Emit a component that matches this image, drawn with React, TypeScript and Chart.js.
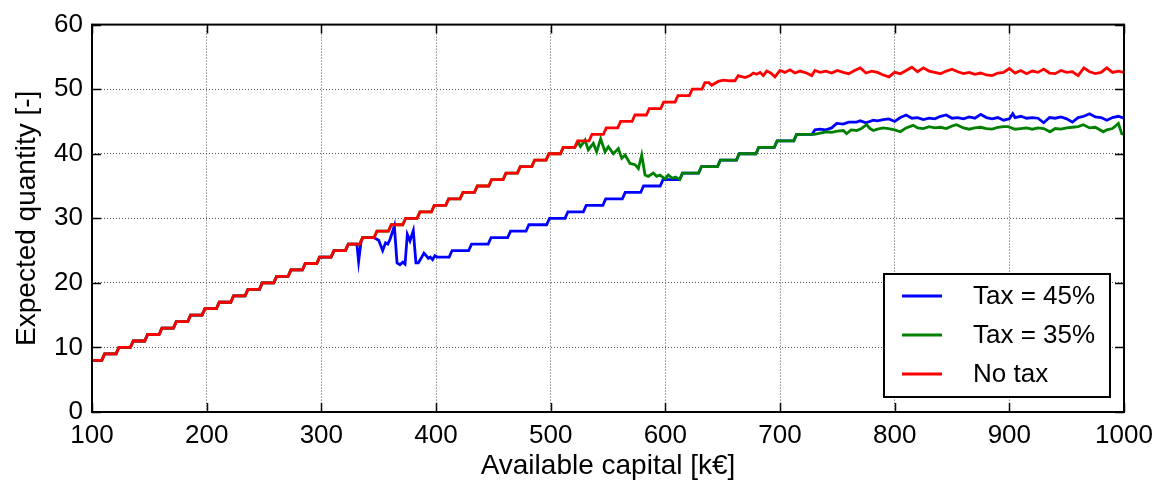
import { useEffect, useRef } from "react";
import { Chart, registerables } from "chart.js";

Chart.register(...registerables);

const FONT = "'Liberation Sans', Arial, Helvetica, sans-serif";

const xTitle = "Available capital [k€]";
const yTitle = "Expected quantity [-]";
const seriesLabels = ["Tax = 45%", "Tax = 35%", "No tax"];
const seriesColors = ["#0000ff", "#008000", "#ff0000"];

// Staircase shared by all series while the tax does not bind (No tax curve)
const noTaxStairs: [number, number][] = [
  [100, 8], [108.5, 8], [111, 9], [121, 9], [123.5, 10], [133.5, 10], [136, 11], [146, 11],
  [148.5, 12], [158.5, 12], [161, 13], [171, 13], [173.5, 14], [183.5, 14], [186, 15], [196, 15],
  [198.5, 16], [208.5, 16], [211, 17], [221, 17], [223.5, 18], [233.5, 18], [236, 19], [246, 19],
  [248.5, 20], [258.5, 20], [261, 21], [271, 21], [273.5, 22], [283.5, 22], [286, 23], [296, 23],
  [298.5, 24], [308.5, 24], [311, 25], [321, 25], [323.5, 26], [331, 26], [333.5, 26], [336, 27],
  [346, 27], [348.5, 28], [358.5, 28], [361, 29], [371, 29], [373.5, 30], [383.5, 30], [386, 31],
  [396, 31], [398.5, 32], [408.5, 32], [411, 33], [421, 33], [423.5, 34], [433.5, 34], [436, 35],
  [446, 35], [448.5, 36], [458.5, 36], [461, 37], [471, 37], [473.5, 38], [483.5, 38], [486, 39],
  [496, 39], [498.5, 40], [508.5, 40], [511, 41], [521, 41], [523.5, 42], [533.5, 42], [536, 43],
  [546, 43], [548.5, 44], [558.5, 44], [561, 45], [571, 45], [573.5, 46], [583.5, 46], [586, 47],
  [596, 47], [598.5, 48], [608.5, 48], [611, 49], [621, 49], [623.5, 50], [632, 50], [634.5, 51],
  [638, 51],
];

const noTaxTail: [number, number][] = [
  [640.4, 50.6], [646.2, 51.2], [650.5, 51.4], [656.4, 51.3], [660.7, 51.3], [663.6, 52.1],
  [669.5, 51.8], [673.8, 52.1], [676.7, 52.5], [679.6, 52.3], [682.6, 52.6], [685.4, 52.1],
  [688.4, 52.8], [691.9, 52.5], [695.6, 51.9], [700, 52.9], [704.4, 52.6], [708.7, 53.0],
  [713, 52.5], [717.4, 52.8], [723.2, 52.5], [727.6, 52.1], [730.5, 52.9], [734.9, 52.6],
  [740, 52.8], [745, 52.5], [750, 52.9], [755, 52.6], [760, 52.4], [765, 52.9], [770, 53.3],
  [775, 52.5], [780, 52.8], [785, 52.6], [790, 52.2], [795, 51.9], [800, 52.6], [805, 52.4],
  [810, 52.9], [815, 53.4], [820, 52.7], [825, 53.3], [830, 52.8], [835, 52.6], [840, 52.4],
  [845, 52.8], [850, 53.1], [855, 52.7], [860, 52.4], [865, 52.6], [870, 52.3], [875, 52.5],
  [880, 52.2], [885, 52.1], [890, 52.5], [895, 52.6], [900, 53.2], [905, 52.5], [910, 52.9],
  [915, 52.4], [920, 52.8], [925, 52.6], [930, 53.1], [935, 52.5], [940, 52.4], [945, 52.9],
  [950, 52.6], [955, 52.7], [960, 52.1], [965, 53.3], [970, 52.7], [975, 52.4], [980, 52.6],
  [985, 53.3], [990, 52.6], [995, 52.8], [1000, 52.6],
];

const tax45Dip: [number, number][] = [
  [332.5, 23.3], [334.5, 26.2], [336, 27], [346, 27], [348, 26.8], [350, 26.6], [353.5, 25.0],
  [356, 26.2], [358, 26.0], [360, 26.8], [363.7, 28.8], [366, 23.1], [368.6, 22.8], [371, 23.2],
  [373, 22.9], [375, 27.5], [377.3, 26.5], [380.2, 28.1], [382.5, 23.1], [384.6, 23.1],
  [387, 23.8], [389.5, 24.6], [391.5, 24.2], [393.3, 23.8], [395, 24.0], [397, 23.6],
  [399, 24.2], [401, 24.0],
];

const tax45Stairs: [number, number][] = [
  [411.5, 24], [414, 25], [428.5, 25], [431, 26], [445.5, 26], [448, 27], [462.5, 27], [465, 28],
  [478.5, 28], [481, 29], [496.5, 29], [499, 30], [512.5, 30], [515, 31], [528.5, 31], [531, 32],
  [545.5, 32], [548, 33], [562.5, 33], [565, 34], [578.5, 34], [581, 35], [595.5, 35], [598, 36],
  [612.5, 36], [615, 37], [629, 37], [631.5, 38], [645.5, 38], [648, 39], [662, 39], [664.5, 40],
  [679, 40], [681.5, 41], [695, 41], [697.5, 42], [712, 42], [714.5, 43], [728, 43],
];

const tax45Tail: [number, number][] = [
  [730.5, 43.7], [735, 43.8], [740, 43.7], [745, 44.0], [749.4, 44.7], [755, 44.6], [760, 44.9],
  [766.8, 44.9], [770, 45.1], [775, 44.8], [781.4, 45.2], [785, 45.1], [790, 45.3], [795, 45.4],
  [800, 45.0], [805, 45.6], [810, 46.0], [815, 45.5], [820, 45.6], [825, 45.3], [830, 45.5],
  [835, 45.4], [840, 45.8], [845, 46.0], [850, 45.5], [855, 45.6], [860, 45.4], [865, 45.7],
  [870, 45.5], [875, 46.1], [880, 45.6], [885, 45.4], [890, 45.6], [895, 45.2], [900, 45.4],
  [903, 46.2], [905, 45.6], [910, 45.8], [915, 45.5], [920, 45.6], [925, 45.5], [930, 44.8],
  [935, 45.6], [940, 45.5], [945, 45.7], [950, 45.4], [955, 44.9], [960, 45.6], [965, 45.8],
  [970, 46.2], [975, 45.7], [980, 45.6], [985, 45.2], [990, 45.6], [995, 45.8], [1000, 45.5],
];

const tax35Dip: [number, number][] = [
  [524, 41.8], [526, 41.1], [530, 42.1], [532.8, 40.6], [537.2, 41.6], [540.1, 40.3],
  [543.6, 42.3], [547.4, 40.3], [550.3, 41.1], [554.7, 40.0], [559, 40.8], [562, 39.3],
  [564.9, 39.8], [569.2, 38.5], [573.6, 38.3], [576.5, 37.7], [579.4, 39.8], [582.3, 36.7],
  [585.1, 36.5], [589.5, 37.0], [592.4, 36.5], [595.3, 36.7], [599.7, 36.1], [602.6, 36.7],
  [606, 36.2], [609, 36.4], [612.5, 36.0],
];

const tax35Tail: [number, number][] = [
  [730, 43.0], [735, 43.2], [740.6, 43.4], [745, 43.3], [750, 43.5], [755.2, 43.6], [758.1, 43.1],
  [762, 43.7], [767, 43.6], [771, 43.9], [775.5, 44.5], [778.5, 43.9], [781.4, 43.6], [785, 43.8],
  [790, 44.0], [794.5, 43.9], [800, 43.7], [805, 43.4], [810, 44.0], [816.2, 44.4], [820, 44.0],
  [825, 43.9], [830, 44.2], [835, 44.0], [840, 44.1], [845, 43.9], [850, 44.3], [854, 44.5],
  [860, 44.0], [865, 43.8], [870, 44.0], [875, 44.1], [880, 43.9], [885, 43.8], [890, 44.1],
  [895, 44.2], [899, 44.2], [905, 43.8], [910, 43.9], [915, 44.0], [920, 43.8], [925, 44.0],
  [930, 43.9], [935.5, 43.4], [940, 43.9], [945, 43.8], [950, 44.0], [955, 44.1], [960, 44.2],
  [964.5, 44.5], [970, 44.0], [975, 44.1], [982, 43.4], [985, 43.7], [990, 43.9], [995.1, 44.7],
  [998, 43.1], [1000, 43.0],
];

const xMin = 100, xMax = 1000, xStep = 100;
const yMin = 0, yMax = 60, yStep = 10;

const toXY = (arr: [number, number][]) => arr.map(([x, y]) => ({ x, y }));

const tax45 = [...noTaxStairs.filter((p) => p[0] <= 331), ...tax45Dip, ...tax45Stairs, ...tax45Tail];
const tax35 = [
  ...noTaxStairs.filter((p) => p[0] <= 521),
  ...tax35Dip,
  ...tax45Stairs.filter((p) => p[0] >= 615),
  ...tax35Tail,
];
const noTax = [...noTaxStairs, ...noTaxTail];

const framePlugin = {
  id: "frameTicks",
  afterDatasetsDraw(chart: any) {
    const { ctx, chartArea } = chart;
    const { left, right, top, bottom } = chartArea;
    const xs = chart.scales.x;
    const ys = chart.scales.y;
    const tl = 9;
    ctx.save();
    ctx.strokeStyle = "#000";
    ctx.lineWidth = 1.5;
    ctx.beginPath();
    for (let v = xMin; v <= xMax; v += xStep) {
      const px = Math.round(xs.getPixelForValue(v)) + 0.5;
      ctx.moveTo(px, bottom);
      ctx.lineTo(px, bottom - tl);
      ctx.moveTo(px, top);
      ctx.lineTo(px, top + tl);
    }
    for (let v = yMin; v <= yMax; v += yStep) {
      const py = Math.round(ys.getPixelForValue(v)) + 0.5;
      ctx.moveTo(left, py);
      ctx.lineTo(left + tl, py);
      ctx.moveTo(right, py);
      ctx.lineTo(right - tl, py);
    }
    ctx.stroke();
    ctx.lineWidth = 2;
    ctx.strokeRect(left, top, right - left, bottom - top);
    ctx.restore();
  },
};

const legendPlugin = {
  id: "boxLegend",
  afterDraw(chart: any) {
    const { ctx, chartArea } = chart;
    const w = 226;
    const h = 123;
    const x0 = chartArea.right - 14 - w;
    const y0 = chartArea.bottom - 15 - h;
    ctx.save();
    ctx.fillStyle = "#fff";
    ctx.fillRect(x0, y0, w, h);
    ctx.strokeStyle = "#000";
    ctx.lineWidth = 2;
    ctx.strokeRect(x0, y0, w, h);
    ctx.font = `26px ${FONT}`;
    ctx.textBaseline = "middle";
    ctx.textAlign = "left";
    chart.data.datasets.forEach((ds: any, i: number) => {
      const cy = y0 + 22 + i * 39;
      ctx.strokeStyle = ds.borderColor;
      ctx.lineWidth = 2.8;
      ctx.beginPath();
      ctx.moveTo(x0 + 18, cy);
      ctx.lineTo(x0 + 58, cy);
      ctx.stroke();
      ctx.fillStyle = "#000";
      ctx.fillText(ds.label, x0 + 89, cy + 1);
    });
    ctx.restore();
  },
};

export default function App() {
  const ref = useRef<HTMLCanvasElement | null>(null);
  useEffect(() => {
    if (!ref.current) return;
    const chart = new Chart(ref.current, {
      type: "line",
      data: {
        datasets: [
          { label: seriesLabels[0], data: toXY(tax45), borderColor: seriesColors[0], order: 2 },
          { label: seriesLabels[1], data: toXY(tax35), borderColor: seriesColors[1], order: 1 },
          { label: seriesLabels[2], data: toXY(noTax), borderColor: seriesColors[2], order: 0 },
        ].map((d) => ({
          ...d,
          backgroundColor: d.borderColor,
          borderWidth: 2.8,
          pointRadius: 0,
          tension: 0,
          fill: false,
        })),
      },
      options: {
        responsive: false,
        animation: false,
        layout: { padding: { top: 22, right: 41, left: 0, bottom: 0 } },
        plugins: { legend: { display: false }, tooltip: { enabled: false } },
        scales: {
          x: {
            type: "linear",
            min: xMin,
            max: xMax,
            afterFit: (s: any) => {
              s.height = 77;
            },
            ticks: {
              stepSize: xStep,
              color: "#000",
              padding: 8,
              maxRotation: 0,
              font: { family: FONT, size: 26 },
              callback: (v: any) => String(v),
            },
            grid: { color: "#555", lineWidth: 1, drawTicks: false },
            border: { display: false, dash: [1, 2] },
            title: {
              display: true,
              text: xTitle,
              color: "#000",
              font: { family: FONT, size: 28 },
              padding: { top: 0, bottom: 6 },
            },
          },
          y: {
            type: "linear",
            min: yMin,
            max: yMax,
            afterFit: (s: any) => {
              s.width = 92;
            },
            ticks: {
              stepSize: yStep,
              color: "#000",
              padding: 9,
              font: { family: FONT, size: 26 },
              callback: (v: any) => String(v),
            },
            grid: { color: "#555", lineWidth: 1, drawTicks: false },
            border: { display: false, dash: [1, 2] },
            title: {
              display: true,
              text: yTitle,
              color: "#000",
              font: { family: FONT, size: 28 },
              padding: { top: 10, bottom: 0 },
            },
          },
        },
      },
      plugins: [framePlugin, legendPlugin],
    });
    return () => chart.destroy();
  }, []);
  return (
    <canvas
      ref={ref}
      width={1165}
      height={489}
      style={{ position: "absolute", left: 0, top: 0, display: "block", background: "#fff" }}
    />
  );
}
